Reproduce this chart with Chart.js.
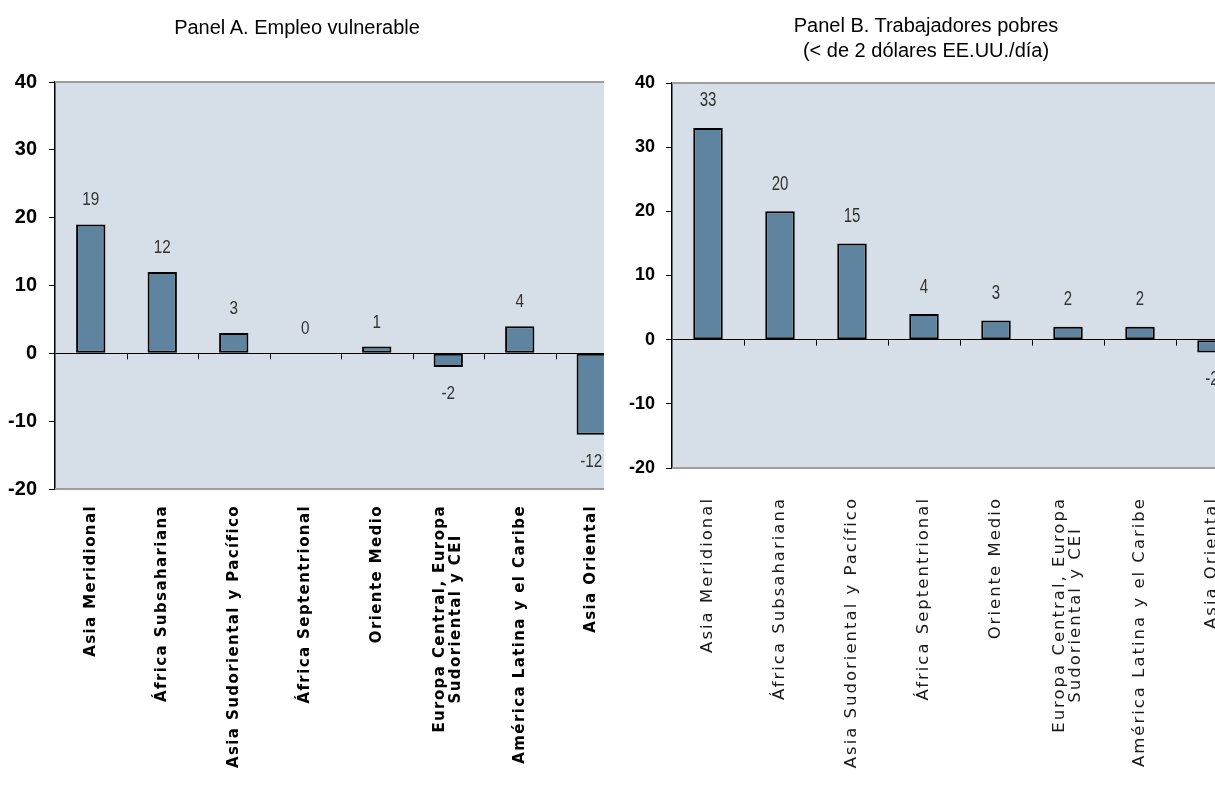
<!DOCTYPE html>
<html>
<head>
<meta charset="utf-8">
<script src="https://cdn.jsdelivr.net/npm/chart.js@4.4.1/dist/chart.umd.min.js"></script>
<style>
  body { margin: 0; background: #fff; width: 1215px; height: 785px; overflow: hidden; position: relative;
         font-family: "Liberation Sans", Arial, sans-serif; }
  .panel { position: absolute; top: 0; height: 785px; overflow: hidden; }
  .panel canvas { display: block; }
  #panelA { left: 0; width: 604px; }
  #panelB { left: 604px; width: 611px; }
  .title { position: absolute; width: 320px; font-size: 20px; line-height: 25px; text-align: center; white-space: nowrap; color: #000; }
  #titleA { left: 137px; top: 15px; }
  #titleB { left: 766px; top: 13px; }
</style>
</head>
<body>
<div id="panelA" class="panel"><canvas id="chartA" width="650" height="785"></canvas></div>
<div id="panelB" class="panel"><canvas id="chartB" width="670" height="785"></canvas></div>
<div class="title" id="titleA">Panel A. Empleo vulnerable</div>
<div class="title" id="titleB">Panel B. Trabajadores pobres<br>(&lt; de 2 dólares EE.UU./día)</div>

<script>
/* ================= DATA ================= */
const regions = [
    "Asia Meridional",
    "África Subsahariana",
    "Asia Sudoriental y Pacífico",
    "África Septentrional",
    "Oriente Medio",
    ["Europa Central, Europa", "Sudoriental y CEI"],
    "América Latina y el Caribe",
    "Asia Oriental"
];
const empleoVulnerable = [19, 12, 3, 0, 1, -2, 4, -12];
const trabajadoresPobres = [33, 20, 15, 4, 3, 2, 2, -2];
const yTicks = [-20, -10, 0, 10, 20, 30, 40];

/* ================= PANEL DECORATION PLUGIN ================= */
const panelDecor = {
    id: "panelDecor",
    beforeDraw(chart) {
        const { ctx, chartArea: a } = chart;
        ctx.save();
        ctx.fillStyle = "#D6DFE7";
        ctx.fillRect(a.left, a.top, a.right - a.left, a.bottom - a.top);
        ctx.restore();
    },
    beforeDatasetsDraw(chart) {
        // small category ticks hanging under the zero line
        const { ctx, scales: { x, y } } = chart;
        const y0 = y.getPixelForValue(0);
        const n = chart.data.labels.length;
        ctx.save();
        ctx.strokeStyle = "#000";
        ctx.lineWidth = 1;
        for (let i = 1; i < n; i++) {
            const bx = Math.round((x.getPixelForValue(i - 1) + x.getPixelForValue(i)) / 2) + 0.5;
            ctx.beginPath();
            ctx.moveTo(bx, y0);
            ctx.lineTo(bx, y0 + 6);
            ctx.stroke();
        }
        ctx.restore();
    },
    afterDraw(chart, args, opts) {
        const { ctx, chartArea: a, scales: { x } } = chart;
        ctx.save();

        /* top and bottom frame of the plot */
        ctx.strokeStyle = "#9D9D9D";
        ctx.lineWidth = 2;
        [a.top, a.bottom].forEach(yy => {
            ctx.beginPath();
            ctx.moveTo(a.left, yy);
            ctx.lineTo(a.right + 40, yy);
            ctx.stroke();
        });

        /* value labels */
        const meta = chart.getDatasetMeta(0);
        const vals = chart.data.datasets[0].data;
        ctx.fillStyle = "#333";
        ctx.font = opts.valueFont;
        ctx.textAlign = "center";
        ctx.textBaseline = "middle";
        meta.data.forEach((bar, i) => {
            const v = vals[i];
            const ty = v < 0 ? bar.y + opts.valueGapNeg : bar.y - opts.valueGap;
            ctx.save();
            ctx.translate(bar.x, ty);
            ctx.scale(opts.valueSqueeze, 1);
            ctx.fillText(String(v), 0, 0);
            ctx.restore();
        });

        /* category labels, rotated, top-aligned under the plot */
        ctx.font = opts.labelFont;
        ctx.fillStyle = opts.labelColor;
        ctx.letterSpacing = opts.letterSpacing;
        ctx.textAlign = "center";
        ctx.textBaseline = "middle";
        chart.data.labels.forEach((lab, i) => {
            const lines = Array.isArray(lab) ? lab : [lab];
            const w = Math.max(...lines.map(l => ctx.measureText(l).width));
            ctx.save();
            ctx.translate(x.getPixelForValue(i), a.bottom + opts.labelGap);
            ctx.rotate(-Math.PI / 2);
            lines.forEach((l, j) => {
                ctx.fillText(l, -w / 2, (j - (lines.length - 1) / 2) * opts.lineHeight);
            });
            ctx.restore();
        });

        ctx.restore();
    }
};

/* ================= BUILD ONE PANEL ================= */
function makePanel(canvasId, values, cfg) {
    return new Chart(document.getElementById(canvasId), {
        type: "bar",
        data: {
            labels: regions,
            datasets: [{
                data: values,
                backgroundColor: "#5E849F",
                borderColor: "#000",
                borderWidth: 2,
                borderSkipped: false,
                barPercentage: 0.41,
                categoryPercentage: 1
            }]
        },
        options: {
            responsive: false,
            animation: false,
            layout: { padding: cfg.padding },
            scales: {
                x: { display: false, offset: true, ticks: { autoSkip: false } },
                y: {
                    min: yTicks[0],
                    max: yTicks[yTicks.length - 1],
                    ticks: {
                        stepSize: yTicks[1] - yTicks[0],
                        color: "#000",
                        padding: cfg.tickPad,
                        font: { family: "Liberation Sans", weight: "bold", size: cfg.tickSize }
                    },
                    grid: {
                        color: c => (c.tick && c.tick.value === 0 ? "#000" : "rgba(0,0,0,0)"),
                        tickColor: "#000",
                        tickLength: 6,
                        lineWidth: 1
                    },
                    border: { display: true, color: "#000", width: 1.5 },
                    afterFit: s => { s.width = cfg.axisWidth; }
                }
            },
            plugins: {
                legend: { display: false },
                tooltip: { enabled: false },
                panelDecor: cfg.decor
            }
        },
        plugins: [panelDecor]
    });
}

makePanel("chartA", empleoVulnerable, {
    padding: { top: 82, bottom: 296, left: 0, right: 23 },
    axisWidth: 55,
    tickPad: 12,
    tickSize: 20,
    decor: {
        valueFont: "18px 'Liberation Sans'",
        valueGap: 24,
        valueGapNeg: 27,
        valueSqueeze: 0.85,
        labelFont: "bold 15px 'DejaVu Sans'",
        labelColor: "#000",
        letterSpacing: "1.4px",
        labelGap: 16,
        lineHeight: 16
    }
});

makePanel("chartB", trabajadoresPobres, {
    padding: { top: 83, bottom: 317, left: 0, right: 26 },
    axisWidth: 68,
    tickPad: 11,
    tickSize: 18,
    decor: {
        valueFont: "20px 'Liberation Sans'",
        valueGap: 27,
        valueGapNeg: 27,
        valueSqueeze: 0.75,
        labelFont: "16.5px 'DejaVu Sans'",
        labelColor: "#1a1a1a",
        letterSpacing: "2px",
        labelGap: 29,
        lineHeight: 16
    }
});
</script>
</body>
</html>
